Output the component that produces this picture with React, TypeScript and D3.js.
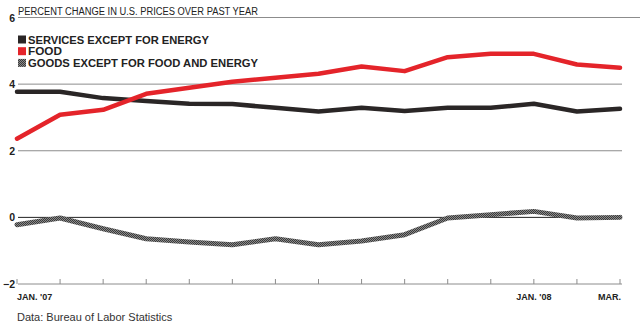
import React from "react";
import * as d3 from "d3";

const months = ["JAN. '07", "FEB", "MAR", "APR", "MAY", "JUN", "JUL", "AUG", "SEP", "OCT", "NOV", "DEC", "JAN. '08", "FEB", "MAR."];
const services = [3.77, 3.77, 3.58, 3.49, 3.41, 3.4, 3.29, 3.18, 3.29, 3.19, 3.29, 3.29, 3.41, 3.18, 3.26];
const food = [2.36, 3.08, 3.23, 3.71, 3.89, 4.07, 4.19, 4.31, 4.53, 4.39, 4.81, 4.91, 4.91, 4.59, 4.49];
const goods = [-0.22, -0.02, -0.34, -0.64, -0.74, -0.82, -0.64, -0.82, -0.71, -0.52, -0.02, 0.08, 0.18, -0.02, 0.0];
const yTicks = [6, 4, 2, 0, -2];
const xLabelIdx = [0, 12, 14];

const W = 640, H = 334;
const x = d3.scaleLinear().domain([0, months.length - 1]).range([17, 620]);
const y = d3.scaleLinear().domain([-2, 6]).range([284, 17.5]);
const line = d3.line<number>().x((_, i) => x(i)).y((d) => y(d));

const font = "'Liberation Sans', Arial, sans-serif";

export default function App() {
  return (
    <svg width={W} height={H} style={{ position: "absolute", left: 0, top: 0, background: "#fff" }}>
      <defs>
        <pattern id="hatch" width="2" height="2" patternUnits="userSpaceOnUse">
          <rect width="2" height="2" fill="#8a8a8a" />
          <rect width="1" height="1" fill="#3a3a3a" />
          <rect x="1" y="1" width="1" height="1" fill="#3a3a3a" />
        </pattern>
      </defs>
      {yTicks.map((t) => (
        <g key={t}>
          <line x1={18} x2={t === 6 ? 640 : 622} y1={y(t)} y2={y(t)} stroke={t === 0 ? "#222" : "#8c8c8c"} strokeWidth={1} />
          <text x={15} y={y(t) + 4} textAnchor="end" fontFamily={font} fontWeight="bold" fontSize={10.5} fill="#222">
            {t < 0 ? "\u2212" + Math.abs(t) : t}
          </text>
        </g>
      ))}
      {months.map((_, i) => (
        <line key={i} x1={x(i)} x2={x(i)} y1={y(-2)} y2={y(-2) - 5} stroke="#8c8c8c" strokeWidth={1} />
      ))}
      {xLabelIdx.map((i) => (
        <text key={i} x={i === 14 ? x(i) + 1 : x(i)} y={300} textAnchor={i === 0 ? "start" : i === 14 ? "end" : "middle"}
          fontFamily={font} fontWeight="bold" fontSize={9} fill="#222">{months[i]}</text>
      ))}
      <text x={18} y={15} fontFamily={font} fontSize={10} fill="#222" textLength={240} lengthAdjust="spacingAndGlyphs">PERCENT CHANGE IN U.S. PRICES OVER PAST YEAR</text>
      <path d={line(goods) || ""} fill="none" stroke="url(#hatch)" strokeWidth={5} strokeLinejoin="round" strokeLinecap="round" />
      <path d={line(services) || ""} fill="none" stroke="#2a2626" strokeWidth={4.5} strokeLinejoin="round" strokeLinecap="round" />
      <path d={line(food) || ""} fill="none" stroke="#e4242a" strokeWidth={4.5} strokeLinejoin="round" strokeLinecap="round" />
      {[
        { label: "SERVICES EXCEPT FOR ENERGY", fill: "#2a2626", w: 181 },
        { label: "FOOD", fill: "#e4242a", w: 34 },
        { label: "GOODS EXCEPT FOR FOOD AND ENERGY", fill: "url(#hatch)", w: 230 },
      ].map((d, i) => (
        <g key={d.label}>
          <rect x={18} y={35.5 + i * 11.7} width={8} height={8} fill={d.fill} />
          <text x={28} y={43.5 + i * 11.7} fontFamily={font} fontWeight="bold" fontSize={10.5} fill="#222" textLength={d.w} lengthAdjust="spacingAndGlyphs">{d.label}</text>
        </g>
      ))}
      <text x={17} y={321} fontFamily={font} fontSize={11} fill="#333">Data: Bureau of Labor Statistics</text>
    </svg>
  );
}
